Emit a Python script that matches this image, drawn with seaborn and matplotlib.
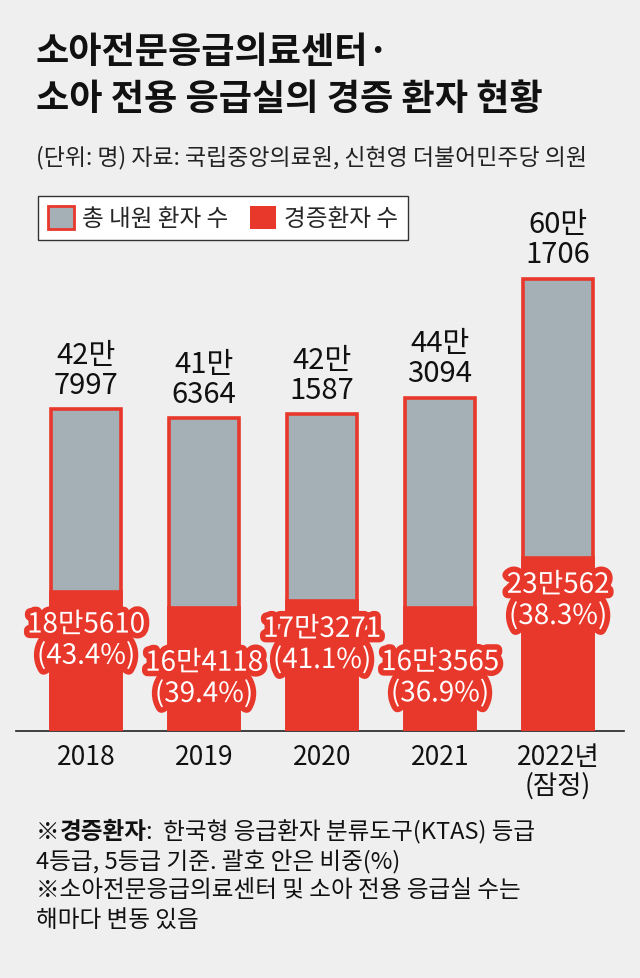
import matplotlib
matplotlib.use("Agg")
import matplotlib.pyplot as plt
import matplotlib.patheffects as pe
from matplotlib.patches import Patch
import seaborn as sns
import pandas as pd

# ---- data ----
years = ["2018", "2019", "2020", "2021", "2022"]
tick_labels = ["2018", "2019", "2020", "2021", "2022년\n(잠정)"]
total_patients = [427997, 416364, 421587, 443094, 601706]
mild_patients = [185610, 164118, 173271, 163565, 230562]
mild_share = [43.4, 39.4, 41.1, 36.9, 38.3]

title_lines = ["소아전문응급의료센터·", "소아 전용 응급실의 경증 환자 현황"]
subtitle = "(단위: 명) 자료: 국립중앙의료원, 신현영 더불어민주당 의원"
legend_labels = ["총 내원 환자 수", "경증환자 수"]

# ---- style ----
BG = "#efefef"
GRAY = "#a4b0b5"
RED = "#e8372b"
W, H = 640, 979

sns.set_theme(style="white")
plt.rcParams["font.family"] = ["Noto Sans CJK KR", "DejaVu Sans"]

df = pd.DataFrame({"year": years, "total": total_patients, "mild": mild_patients})

fig = plt.figure(figsize=(W / 100, H / 100), dpi=100, facecolor=BG)

def fx(px):
    return px / W

def fy(py):
    return 1 - py / H

# axes: baseline at y=732 px, x span 16..624 px
ymax = 700000
px_per_unit = 452 / 601706
ax_h = ymax * px_per_unit
ax = fig.add_axes([fx(16), fy(732), fx(624) - fx(16), ax_h / H])
ax.set_facecolor("none")

sns.barplot(data=df, x="year", y="total", color=GRAY, edgecolor=RED,
            linewidth=2.6, width=0.6, saturation=1, ax=ax, zorder=2)
sns.barplot(data=df, x="year", y="mild", color=RED, edgecolor=RED,
            linewidth=2.6, width=0.6, saturation=1, ax=ax, zorder=3)

ax.set_xlim((16 - 86) / 118, (624 - 86) / 118)
ax.set_ylim(0, ymax)
for s in ["top", "right", "left"]:
    ax.spines[s].set_visible(False)
ax.spines["bottom"].set_color("#222222")
ax.spines["bottom"].set_linewidth(1.2)
ax.set_yticks([])
ax.set_xlabel("")
ax.set_ylabel("")
ax.set_xticks(range(len(years)))
ax.set_xticklabels(tick_labels, fontsize=19, color="#111111", linespacing=1.05)
ax.tick_params(axis="x", length=0, pad=9)

# top labels (total)
for i, v in enumerate(total_patients):
    ax.annotate(f"{v // 10000}만\n{v % 10000}", xy=(i, v), xytext=(0, 7),
                textcoords="offset points", ha="center", va="bottom",
                fontsize=21, color="#111111", linespacing=1.0, zorder=5)

# red labels (mild)
drop_px = [18, 40, 13, 39, 12]
for i, (v, p) in enumerate(zip(mild_patients, mild_share)):
    t = ax.annotate(f"{v // 10000}만{v % 10000}\n({p}%)", xy=(i, v),
                    xytext=(0, -drop_px[i] * 0.72), textcoords="offset points",
                    ha="center", va="top", fontsize=20, color="white",
                    linespacing=1.05, zorder=6)
    t.set_path_effects([pe.withStroke(linewidth=8, foreground=RED)])

# title & subtitle
fig.text(fx(36), fy(52), title_lines[0], fontsize=26, fontweight="bold",
         color="#111111", va="center", ha="left")
fig.text(fx(36), fy(100), title_lines[1], fontsize=26, fontweight="bold",
         color="#111111", va="center", ha="left")
fig.text(fx(36), fy(158), subtitle, fontsize=16.5, color="#222222",
         va="center", ha="left")

# legend
handles = [Patch(facecolor=GRAY, edgecolor=RED, linewidth=2),
           Patch(facecolor=RED, edgecolor=RED, linewidth=0)]
leg = fig.legend(handles, legend_labels, loc="upper left",
                 bbox_to_anchor=(fx(38), fy(197)), bbox_transform=fig.transFigure,
                 ncol=2, fontsize=17, frameon=True, fancybox=False,
                 framealpha=1, facecolor="white", edgecolor="#333333",
                 borderaxespad=0, handlelength=1.1, handleheight=1.1,
                 handletextpad=0.35, columnspacing=0.9, borderpad=0.42)
leg.get_frame().set_linewidth(1.0)

# footnote
FS = 17
t1 = fig.text(fx(36), fy(833), "※", fontsize=FS, color="#111111",
              va="center", ha="left")
a2 = plt.annotate("경증환자", xy=(1, 0), xycoords=t1, va="bottom", ha="left",
                  fontsize=FS, fontweight="bold", color="#111111",
                  annotation_clip=False)
a3 = plt.annotate(":  한국형 응급환자 분류도구(KTAS) 등급", xy=(1, 0), xycoords=a2,
                  va="bottom", ha="left", fontsize=FS, color="#111111",
                  annotation_clip=False)
foot = ["4등급, 5등급 기준. 괄호 안은 비중(%)",
        "※소아전문응급의료센터 및 소아 전용 응급실 수는",
        "해마다 변동 있음"]
for k, line in enumerate(foot):
    fig.text(fx(36), fy(862 + 29 * k), line, fontsize=FS, color="#111111",
             va="center", ha="left")

fig.savefig("out.png", dpi=100, facecolor=BG)
